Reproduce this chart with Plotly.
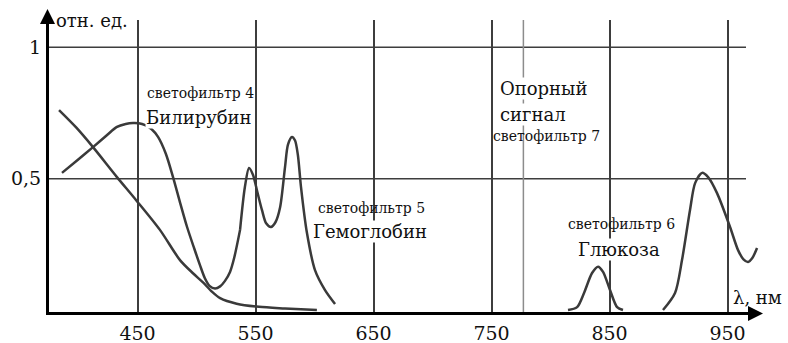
import plotly.graph_objects as go

# Axis ticks
x_ticks = [450, 550, 650, 750, 850, 950]
y_ticks = [0.5, 1]
y_tick_text = ["0,5", "1"]

# Reference signal wavelength (filter 7), nm
ref_wavelength = 777

# Falling background curve
decline_x = [383.5, 398, 412.3, 432.6, 448.7, 469, 486, 497, 505.5, 513, 520, 534, 553, 575, 602]
decline_y = [0.761, 0.695, 0.620, 0.506, 0.419, 0.305, 0.190, 0.140, 0.105, 0.070, 0.045, 0.024, 0.012, 0.006, 0.0]

# Bilirubin absorption
bili_x = [386, 399, 412.3, 424, 432.6, 440, 446.2, 451, 456.4, 462, 467.4, 474, 480.1, 486, 492, 498, 503,
          507, 511, 515.7, 520, 524, 528.4, 532, 536.9]
bili_y = [0.522, 0.570, 0.620, 0.665, 0.697, 0.708, 0.712, 0.711, 0.704, 0.688, 0.659, 0.595, 0.506, 0.410,
          0.316, 0.235, 0.170, 0.122, 0.092, 0.082, 0.090, 0.110, 0.145, 0.200, 0.305]

# Hemoglobin absorption
hemo_x = [536.9, 541, 544.5, 547.9, 551.5, 555.5, 559, 563.1, 567, 570.8, 575, 577.5, 580.9, 583.5,
          585.9, 588.5, 593.6, 600.4, 608.9, 617.4]
hemo_y = [0.305, 0.468, 0.541, 0.514, 0.450, 0.380, 0.330, 0.316, 0.335, 0.390, 0.544, 0.630, 0.659,
          0.645, 0.590, 0.470, 0.293, 0.152, 0.076, 0.023]

# Glucose absorption
gluc_x = [814.8, 822.5, 828.4, 835.2, 840.3, 844.5, 850.4, 856.4, 861.4]
gluc_y = [0.0, 0.011, 0.065, 0.141, 0.165, 0.145, 0.076, 0.011, 0.0]

# Band near 930 nm
band_x = [895.3, 905.5, 911.4, 918.2, 922.5, 928.4, 933.5, 941.1, 952.1, 958.9, 963.5, 967.4, 971, 975]
band_y = [0.0, 0.065, 0.19, 0.381, 0.483, 0.522, 0.506, 0.445, 0.316, 0.228, 0.193, 0.183, 0.198, 0.236]

W, H = 788, 343
L, R, T, B = 49, 28, 20, 31
PW, PH = W - L - R, H - T - B

SERIF = "DejaVu Serif"
CURVE = dict(color="#3a3a3a", width=2.5, shape="spline", smoothing=0.8)
GRID = "#3d3d3d"
BIG, SMALL, TICK = 18, 14, 19


def paper(x, y):
    """Convert figure pixel position to paper fractions."""
    return (x - L) / PW, (H - B - y) / PH


fig = go.Figure()
for xs, ys in [(decline_x, decline_y), (bili_x, bili_y), (hemo_x, hemo_y),
               (gluc_x, gluc_y), (band_x, band_y)]:
    fig.add_trace(go.Scatter(x=xs, y=ys, mode="lines", line=CURVE,
                             hoverinfo="skip", showlegend=False))

shapes = []
gx1, _ = paper(746, 0)
for v in y_ticks:
    shapes.append(dict(type="line", xref="paper", yref="y", x0=0, x1=gx1, y0=v, y1=v,
                       line=dict(color=GRID, width=1.5), layer="below"))
shapes.append(dict(type="line", xref="x", yref="paper", x0=ref_wavelength, x1=ref_wavelength,
                   y0=0, y1=1, line=dict(color="#8c8c8c", width=1.5), layer="below"))

annotations = []
# axis arrows
annotations.append(dict(xref="paper", yref="paper", x=-1.5 / PW, y=(H - B - 9) / PH,
                        ax=0, ay=16, text="", showarrow=True, arrowhead=2,
                        arrowsize=1, arrowwidth=3, arrowcolor="black"))
annotations.append(dict(xref="paper", yref="paper", x=(763 - L) / PW, y=-1.5 / PH,
                        ax=-16, ay=0, text="", showarrow=True, arrowhead=2,
                        arrowsize=1, arrowwidth=3, arrowcolor="black"))

labels = [
    ("отн. ед.", 55, 20, BIG, None),
    ("λ, нм", 732, 297, BIG, None),
    ("светофильтр 4", 146, 93, SMALL, None),
    ("Билирубин", 145, 117, BIG, "white"),
    ("светофильтр 5", 317, 208, SMALL, None),
    ("Гемоглобин", 312, 231, BIG, "white"),
    ("Опорный", 499, 89, BIG, "white"),
    ("сигнал", 499, 115, BIG, "white"),
    ("светофильтр 7", 492, 136, SMALL, None),
    ("светофильтр 6", 567, 224, SMALL, None),
    ("Глюкоза", 577, 249, BIG, "white"),
]
for text, x, y, size, bg in labels:
    px_, py_ = paper(x, y)
    ann = dict(xref="paper", yref="paper", x=px_, y=py_, text=text, showarrow=False,
               xanchor="left", yanchor="middle",
               font=dict(family=SERIF, size=size, color="#111"), borderpad=0)
    if bg:
        ann["bgcolor"] = bg
    annotations.append(ann)

fig.update_layout(
    width=W, height=H,
    margin=dict(l=L, r=R, t=T, b=B, autoexpand=False),
    paper_bgcolor="white", plot_bgcolor="white",
    font=dict(family=SERIF, size=BIG, color="#111"),
    shapes=shapes, annotations=annotations,
    xaxis=dict(range=[375.0, 977.5], tickvals=x_ticks, showgrid=True, automargin=False,
               gridcolor=GRID, gridwidth=1.5, zeroline=False,
               showline=True, linecolor="black", linewidth=3, ticks="",
               ticklabelstandoff=2, tickfont=dict(family=SERIF, size=TICK, color="#111")),
    yaxis=dict(range=[-0.0076, 1.104], tickvals=y_ticks, ticktext=y_tick_text,
               showgrid=False, zeroline=False, automargin=False,
               showline=True, linecolor="black", linewidth=3, ticks="",
               ticklabelstandoff=1, tickfont=dict(family=SERIF, size=TICK, color="#111")),
)

fig.write_html("out.html")
